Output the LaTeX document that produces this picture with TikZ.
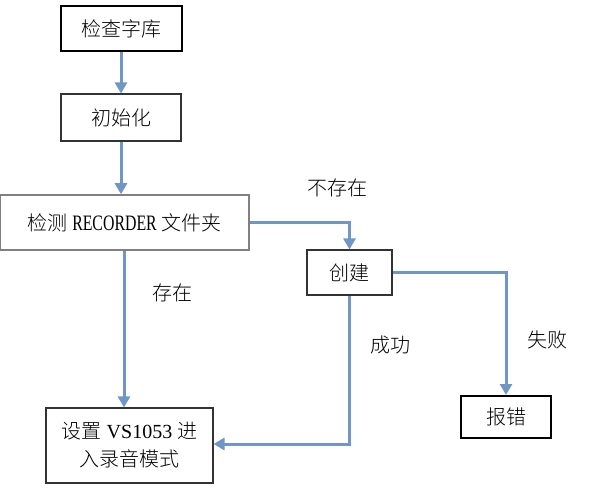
\documentclass[tikz,border=0pt]{standalone}
\usepackage{fontspec}
\usepackage{xcolor}
\usetikzlibrary{arrows.meta}
\setmainfont{Liberation Serif}
\newfontfamily\cjk{Noto Sans CJK SC Light}
\newfontfamily\narrowserif[FakeStretch=0.72]{Liberation Serif}
\definecolor{flowblue}{RGB}{112,150,198}
\definecolor{boxgray}{RGB}{128,128,128}

\begin{document}
\begin{tikzpicture}[x=1pt, y=-1pt,
    font=\fontsize{20}{28}\selectfont,
    box/.style={draw, rectangle, inner sep=0pt, line width=1.1pt, draw=black!80, align=center},
    thickbox/.style={box, line width=2pt, draw=black},
    flow/.style={-{Triangle[length=11pt, width=12pt]}, line width=3pt, flowblue}]
            \useasboundingbox (0,0) rectangle (591,489);

            \node[thickbox, minimum width=121pt, minimum height=45pt] (lib) at (121,28.5) {\cjk 检查字库};
            \node[box, minimum width=120pt, minimum height=47pt] (init) at (121,117.5) {\cjk 初始化};
            \node[box, draw=boxgray, line width=1.5pt, minimum width=249pt, minimum height=55pt] (check) at (124.5,222.5)
                {{\cjk 检测} {\narrowserif\fontsize{22}{28}\selectfont RECORDER} {\cjk 文件夹}};
            \node[box, minimum width=85pt, minimum height=45pt] (create) at (349.5,272.5) {\cjk 创建};
            \node[thickbox, minimum width=90pt, minimum height=42pt] (err) at (506,417) {\cjk 报错};
            \node[box, minimum width=167pt, minimum height=75pt] (rec) at (129.5,445.5)
                {{\cjk 设置} VS1053 {\cjk 进}\\{\cjk 入录音模式}};

            \draw[flow] (lib) -- (init);
            \draw[flow] (init.south) -- (init.south |- check.north);
            \draw[flow] (check.east) -| (create.north);
            \draw[flow] ([xshift=-0.5pt]check.south) -- ([xshift=-0.5pt]check.south |- rec.north);
            \draw[flow] (create.east) -| (err.north);
            \draw[flow] (create.south) |- ([yshift=1.5pt]rec.east);

            \node (nolbl) at (337,188) {\cjk 不存在};
            \node (yeslbl) at (172,293) {\cjk 存在};
            \node (oklbl) at (390,345) {\cjk 成功};
            \node (faillbl) at (547,340) {\cjk 失败};
        \end{tikzpicture}
\end{document}
